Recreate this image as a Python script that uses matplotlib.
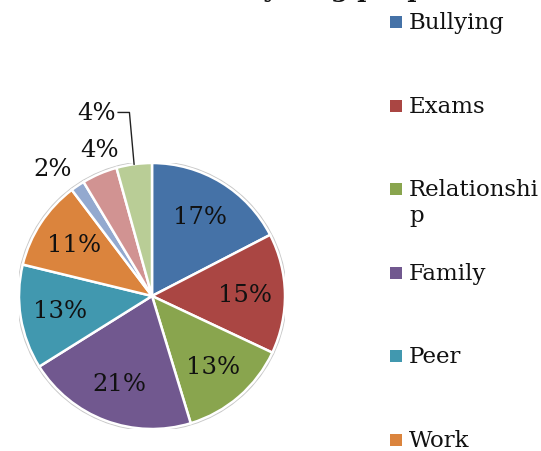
import numpy as np
import matplotlib
matplotlib.use('Agg')
import matplotlib.pyplot as plt
from matplotlib.patches import Rectangle, Circle

# data (percent of responses)
categories = ['Bullying', 'Exams', 'Relationship', 'Family', 'Peer', 'Work',
              'Money', 'Health', 'Other']
values = [17.4, 14.6, 13.3, 20.8, 12.7, 10.9, 1.7, 4.3, 4.3]
legend_labels = ['Bullying', 'Exams', 'Relationshi\np', 'Family', 'Peer', 'Work']  # rest cut off
colours = ['#4572A7', '#AA4643', '#89A54E', '#71588F', '#4198AF', '#DB843D',
           '#93A9CF', '#D19392', '#B9CD96']
title = 'Causes of stress in young people'

plt.rcParams['font.family'] = ['DejaVu Serif']

fig = plt.figure(figsize=(5.41, 4.52), dpi=100)
ax = fig.add_axes([19 / 541, 22 / 452, 266 / 541, 266 / 452])

wedges, texts, autotexts = ax.pie(
    values, colors=colours, startangle=90, counterclock=False,
    autopct='%.0f%%', pctdistance=0.7,
    wedgeprops=dict(edgecolor='white', linewidth=1.8),
    textprops=dict(fontsize=17.5, color='#111111'))
ax.set_xlim(-1, 1)
ax.set_ylim(-1, 1)
ax.set_aspect('equal')
ax.add_patch(Circle((0, 0), 1.01, fill=False, edgecolor='#c8c8c8', linewidth=1.2, zorder=0))

# small slices: labels outside (radius, sideways nudge)
for i, r, dx in [(6, 1.16, -0.10), (7, 1.2, 0.08)]:
    w = wedges[i]
    th = np.deg2rad((w.theta1 + w.theta2) / 2)
    autotexts[i].set_position((r * np.cos(th) + dx, r * np.sin(th)))

w = wedges[8]
th = np.deg2rad((w.theta1 + w.theta2) / 2)
ex, ey = np.cos(th), np.sin(th)
ly = 1.38
ax.plot([ex, ex - 0.035, ex - 0.12], [ey, ly, ly], color='#222222', lw=1, clip_on=False)
autotexts[8].set_position((ex - 0.14, ly))
autotexts[8].set_ha('right')

# title (mostly above the visible area)
fig.text(450 / 541, 1 + 3 / 452, title, ha='right', va='baseline',
         fontsize=18, fontweight='bold', color='#111111')

# legend, hand placed
step = 83.6
for i, lab in enumerate(legend_labels):
    yc = 452 - (23 + i * step)
    fig.add_artist(Rectangle((390 / 541, (yc - 6) / 452), 12 / 541, 12 / 452,
                             transform=fig.transFigure, facecolor=colours[i],
                             edgecolor='none'))
    fig.text(409 / 541, yc / 452, lab.split('\n')[0], ha='left', va='center',
             fontsize=16.5, color='#111111')
    if '\n' in lab:
        fig.text(409 / 541, (yc - 26) / 452, lab.split('\n')[1], ha='left', va='center',
                 fontsize=16.5, color='#111111')

fig.savefig('out.png', dpi=100)
